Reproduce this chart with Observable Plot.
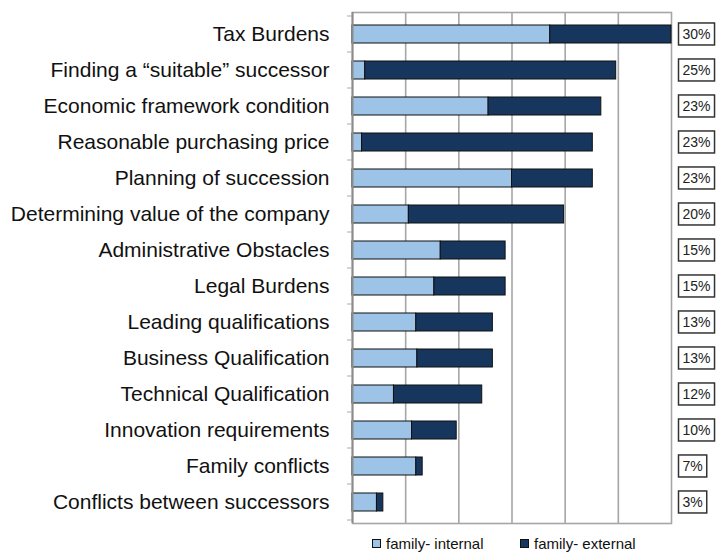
<!DOCTYPE html>
<html>
<head>
<meta charset="utf-8">
<script src="https://cdn.jsdelivr.net/npm/d3@7"></script>
<script src="https://cdn.jsdelivr.net/npm/@observablehq/plot@0.6"></script>
<style>
  html, body { margin: 0; padding: 0; background: #fff; }
  #wrap { position: relative; width: 716px; height: 554px; font-family: "Liberation Sans", Arial, sans-serif; }
  .leg { position: absolute; top: 535px; font-size: 15px; color: #111; display: flex; align-items: center; white-space: nowrap; }
  .sw { display: inline-block; width: 7px; height: 7px; border: 1px solid #111; margin-right: 5px; }
</style>
</head>
<body>
<div id="wrap"></div>
<script>
const categories = [
  "Tax Burdens",
  "Finding a \u201csuitable\u201d successor",
  "Economic framework condition",
  "Reasonable purchasing price",
  "Planning of succession",
  "Determining value of the company",
  "Administrative Obstacles",
  "Legal Burdens",
  "Leading qualifications",
  "Business Qualification",
  "Technical Qualification",
  "Innovation requirements",
  "Family conflicts",
  "Conflicts between successors"
];
const internal = [18.6, 1.2, 12.8, 0.9, 15.0, 5.3, 8.3, 7.7, 6.0, 6.1, 3.9, 5.6, 6.0, 2.3];
const external = [11.4, 23.6, 10.6, 21.7, 7.6, 14.6, 6.1, 6.7, 7.2, 7.1, 8.3, 4.2, 0.6, 0.6];
const totalLabels = ["30%", "25%", "23%", "23%", "23%", "20%", "15%", "15%", "13%", "13%", "12%", "10%", "7%", "3%"];
const seriesNames = ["family- internal", "family- external"];
const seriesColors = ["#9dc3e6", "#17365d"];

const rows = [];
categories.forEach((c, i) => rows.push({cat: c, type: seriesNames[0], value: internal[i]}));
categories.forEach((c, i) => rows.push({cat: c, type: seriesNames[1], value: external[i]}));
const labelRows = categories.map((c, i) => ({cat: c, label: totalLabels[i]}));

const plot = Plot.plot({
  width: 716,
  height: 530,
  marginLeft: 352,
  marginRight: 45,
  marginTop: 12,
  marginBottom: 7,
  style: {fontFamily: "Liberation Sans, Arial, sans-serif", background: "white"},
  x: {domain: [0, 30], axis: null},
  y: {domain: categories, paddingInner: 0.5, paddingOuter: 0.25, label: null},
  color: {domain: seriesNames, range: seriesColors},
  marks: [
    Plot.gridX([5, 10, 15, 20, 25], {stroke: "#a6a6a6", strokeOpacity: 1, strokeWidth: 1.6}),
    Plot.frame({stroke: "#a6a6a6", strokeWidth: 1.6}),
    Plot.barX(rows, Plot.stackX({y: "cat", x: "value", fill: "type", stroke: "#111", strokeWidth: 1})),
    Plot.ruleX([0], {stroke: "#8c8c8c", strokeWidth: 2}),
    Plot.axisY({tickSize: 0, tickPadding: 23, fontSize: 21, fill: "#111", label: null}),
    Plot.text(labelRows, {y: "cat", text: "label", frameAnchor: "right", dx: 11, textAnchor: "start", fontSize: 14, fill: "#222", className: "pct"})
  ]
});
document.getElementById("wrap").appendChild(plot);

// boxes around percentage labels
d3.select(plot).selectAll("g.pct text").each(function() {
  const b = this.getBBox();
  d3.select(this.parentNode).insert("rect", () => this)
    .attr("transform", this.getAttribute("transform"))
    .attr("x", b.x - 4).attr("y", b.y + b.height / 2 - 11)
    .attr("width", b.width + 8).attr("height", 22)
    .attr("fill", "white").attr("stroke", "#333").attr("stroke-width", 1.5);
});

// small tick marks between categories on the y axis
const ys = plot.scale("y"), xs = plot.scale("x");
const x0 = xs.apply(0);
const half = (ys.step - ys.bandwidth) / 2;
const bounds = categories.map(c => ys.apply(c) - half);
bounds.push(ys.apply(categories[categories.length - 1]) + ys.bandwidth + half);
d3.select(plot).append("g").selectAll("line").data(bounds).join("line")
  .attr("x1", x0 - 5).attr("x2", x0).attr("y1", d => d).attr("y2", d => d)
  .attr("stroke", "#aaa").attr("stroke-width", 1);

// legend
const wrap = document.getElementById("wrap");
[[372, 0], [520, 1]].forEach(([left, i]) => {
  const d = document.createElement("div");
  d.className = "leg";
  d.style.left = left + "px";
  d.innerHTML = `<span class="sw" style="background:${seriesColors[i]}"></span><span>${seriesNames[i]}</span>`;
  wrap.appendChild(d);
});
</script>
</body>
</html>
